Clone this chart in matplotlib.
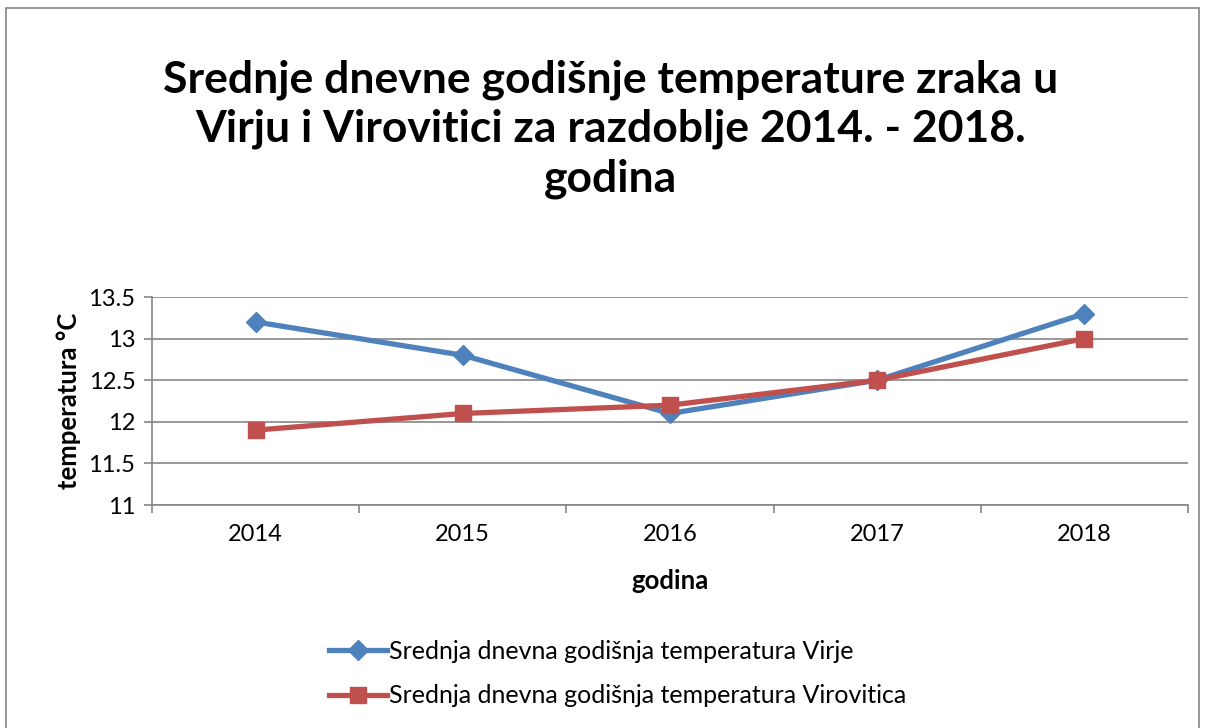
import matplotlib.pyplot as plt
from matplotlib.patches import Rectangle

years = ['2014', '2015', '2016', '2017', '2018']
virje = [13.2, 12.8, 12.1, 12.5, 13.3]
virovitica = [11.9, 12.1, 12.2, 12.5, 13.0]
yticks = [11, 11.5, 12, 12.5, 13, 13.5]
ytick_labels = ['11', '11.5', '12', '12.5', '13', '13.5']

blue = '#4F81BD'
red = '#C0504D'
grid = '#868686'

plt.rcParams['font.family'] = ['Lato', 'DejaVu Sans']

fig = plt.figure(figsize=(12.06, 7.28), dpi=100)
fig.patches.append(Rectangle((6 / 1206, -0.1), 1193 / 1206, 1.1 - 8 / 728,
                             transform=fig.transFigure, fill=False,
                             edgecolor=grid, linewidth=1.2))

ax = fig.add_axes([152 / 1206, 1 - 505 / 728, 1036 / 1206, 208 / 728])
x = list(range(len(years)))
ax.plot(x, virje, color=blue, lw=3.8, marker='D', ms=10, label='Srednja dnevna godišnja temperatura Virje', zorder=3)
ax.plot(x, virovitica, color=red, lw=3.8, marker='s', ms=12, label='Srednja dnevna godišnja temperatura Virovitica', zorder=3)

ax.set_xlim(-0.5, len(years) - 0.5)
ax.set_ylim(11, 13.5)
ax.set_yticks(yticks)
ax.set_yticklabels(ytick_labels, fontsize=17)
ax.set_xticks(x)
ax.set_xticklabels(years, fontsize=17)
ax.set_xticks([i - 0.5 for i in range(len(years) + 1)], minor=True)
ax.tick_params(axis='x', which='major', length=0, pad=14)
ax.tick_params(axis='x', which='minor', length=6, color=grid, width=1.2)
ax.tick_params(axis='y', length=6, color=grid, width=1.2, pad=6)
ax.grid(axis='y', color=grid, lw=1.2)
ax.set_axisbelow(True)
for s in ['top', 'right']:
    ax.spines[s].set_visible(False)
for s in ['left', 'bottom']:
    ax.spines[s].set_color(grid)
    ax.spines[s].set_linewidth(1.2)

ax.set_xlabel('godina', fontsize=18.5, fontweight='bold', labelpad=17)
ax.set_ylabel('temperatura °C', fontsize=18.5, fontweight='bold', labelpad=5)

fig.text(0.506, 1 - 129 / 728,
         'Srednje dnevne godišnje temperature zraka u\nVirju i Virovitici za razdoblje 2014. - 2018.\ngodina',
         ha='center', va='center', fontsize=32, fontweight='bold', linespacing=1.28)

ax.legend(loc='upper left', bbox_to_anchor=(329 / 1206, 1 - 640 / 728), bbox_transform=fig.transFigure,
          frameon=False, fontsize=18, handlelength=2.3, handletextpad=0.1, labelspacing=0.85,
          borderpad=0, borderaxespad=0)

fig.savefig('out.png', dpi=100)
